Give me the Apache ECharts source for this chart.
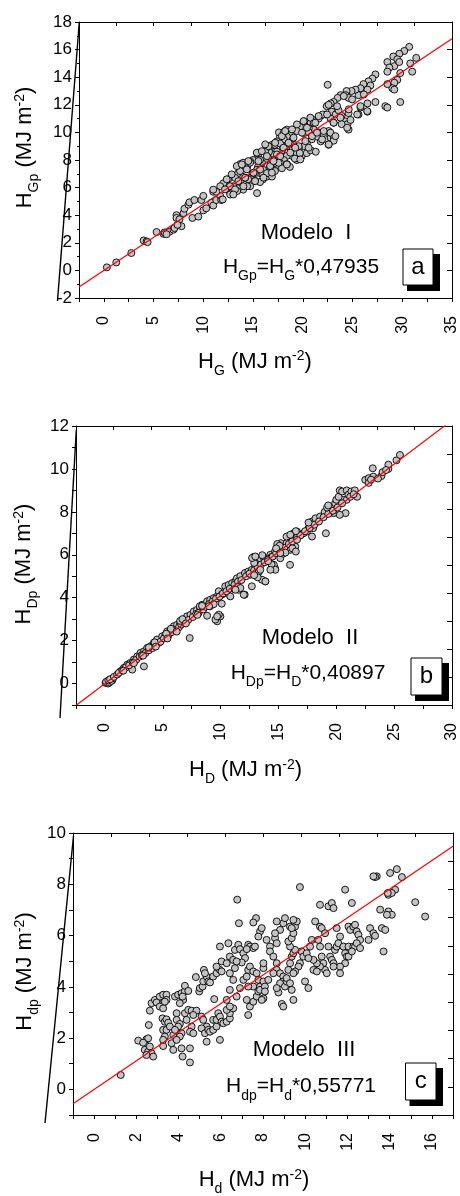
<!DOCTYPE html>
<html><head><meta charset="utf-8">
<script src="https://cdn.jsdelivr.net/npm/echarts@6/dist/echarts.min.js"></script>
<style>html,body{margin:0;padding:0;background:#fff}#c{width:460px;height:1196px}</style>
</head><body><div id="c"></div>
<script>
const FONT = 'Liberation Sans, Arial, sans-serif';

// Panel a: H_G vs H_Gp
const pointsA = [
[0.3,0.22],[1.25,0.58],[2.76,1.26],[4.0,2.17],[4.3,2.1],[4.4,2.05],[5.3,2.78],[6.0,2.65],[6.1,2.75],[6.6,2.8],[6.3,2.62],[7.0,2.95],[7.1,3.07],[7.3,4.0],[7.3,3.8],[7.6,3.7],[7.8,3.2],[7.4,3.3],[8.0,4.15],[8.1,4.47],[8.5,4.76],[8.6,4.93],[8.9,3.8],[9.1,5.1],[9.5,3.9],[9.8,5.1],[10.0,5.4],[10.0,4.35],[10.3,4.5],[10.8,4.9],[11.0,5.7],[11.0,4.7],[11.3,5.1],[11.7,5.4],[11.8,5.1],[12.2,6.2],[12.3,6.45],[12.5,6.6],[12.7,5.6],[12.85,5.8],
[30.7,16.2],[30.2,15.9],[29.7,15.7],[29.1,15.5],[29.5,15.3],[28.5,15.1],[29.2,14.8],[28.7,14.7],[29.7,15.1],[31.4,15.4],[30.8,15.0],[31.0,14.4],[29.8,14.3],[29.5,13.8],[29.2,13.6],[29.0,13.2],[29.2,13.1],[28.5,13.5],[28.5,14.4],[29.8,12.2],[28.3,11.9],[28.5,11.8],
[27.3,14.2],[27.0,13.9],[26.6,13.7],[26.8,13.4],[26.1,13.5],[26.5,13.1],[25.8,13.2],[25.6,12.7],[25.3,13.1],[27.3,12.2],[26.5,12.1],[26.5,11.5],[25.8,11.8],[25.6,11.3],
[24.9,13.0],[24.4,13.0],[24.3,12.7],[24.6,12.5],[23.8,12.7],[23.5,12.5],[23.1,12.2],[22.8,12.1],[22.4,11.9],[22.6,12.0],[22.9,11.5],[23.3,11.3],[23.6,11.6],[23.9,11.2],[24.6,11.4],[24.3,10.8],[24.5,10.6],[24.6,10.2],[24.8,10.9],[23.9,10.6],[23.1,10.7],[22.8,11.0],[22.3,11.3],[21.8,11.2],[22.5,13.45],
[21.6,10.0],[22.1,9.8],[22.6,10.1],[22.3,9.5],[22.8,9.6],[23.1,9.7],[22.6,9.1],[23.1,9.4],[21.8,9.35],[21.4,9.7],[21.1,10.2],[20.8,10.7],[20.6,10.3],[20.1,10.8],[19.7,10.4],[19.4,10.1],
[20.9,9.5],[20.4,9.2],[20.1,9.0],[19.6,8.9],[19.1,9.1],[19.9,8.3],[19.4,8.0],[18.9,8.3],[19.4,8.5],
[18.7,10.0],[18.4,9.7],[18.2,10.1],[18.1,9.5],[17.7,9.7],[17.4,9.35],[17.1,9.1],[16.7,8.9],
[18.4,9.0],[17.9,8.7],[17.4,8.6],[16.9,8.4],[16.6,8.1],[16.2,8.0],[15.9,7.8],[15.5,7.5],
[18.4,8.3],[18.1,8.0],[17.7,7.8],[17.4,7.5],[17.1,7.3],[16.7,7.05],[16.4,6.8],[16.0,6.6],
[18.7,7.5],[18.4,7.7],[17.9,7.4],[17.2,7.2],[16.9,6.8],[16.7,7.5],[16.0,7.3],[15.7,7.05],
[15.5,8.3],[15.4,8.5],[15.7,8.0],[15.0,8.0],[14.7,7.9],[14.5,7.8],[14.4,7.5],[14.0,7.4],
[15.2,7.05],[14.9,6.8],[14.5,6.6],[14.2,6.7],[13.9,6.8],[13.5,7.05],[13.7,6.45],[13.2,6.7],
[15.4,5.6],
[15.7,6.4],[15.2,6.5],[14.7,6.1],[14.4,6.1],[14.0,5.85],[13.5,5.95],[13.0,6.1],[12.85,5.6],[12.7,5.5],[13.4,5.75],
[13.7,7.7],[14.0,7.8],[12.0,6.3],[11.7,6.1],[11.3,5.7],[11.0,5.85],
[16.6,8.6],[16.4,8.9],[16.9,9.1],[17.2,9.1],[17.7,9.2],[17.6,10.0],[18.1,10.0],[18.4,10.2],
[20.4,8.5],[20.8,8.7],[21.3,8.6],[20.1,9.95],[20.6,10.0],[21.1,10.7],[21.3,10.9],[21.6,11.0],[22.0,11.3],
[19.7,8.5],[19.2,8.1],[18.7,9.2],[17.1,8.0],[16.2,8.6],[15.0,7.05],[15.4,7.3],[16.0,6.95],[16.4,7.05],
[11.95,5.14],[12.35,6.6],[12.68,6.1],[13.19,5.87],[13.02,5.5],[13.69,7.2],[13.52,6.47],[14.2,6.72],[14.37,7.32],[14.03,6.1],[15.04,7.08],[15.2,6.47],[15.54,7.92],[15.38,8.53],[15.71,7.32],[15.88,8.64],[16.05,6.72],[16.39,8.28],[16.55,9.0],[16.72,7.56],[16.89,7.08],[17.22,9.25],[17.4,8.4],[17.56,7.8],[17.9,9.73],[18.06,8.89],[18.23,10.1],[18.4,7.68],[18.57,9.25],[18.74,8.53],[18.91,10.22],[19.07,9.62],[19.41,10.58],[19.58,9.0],[19.75,8.04],[19.92,9.98],[20.08,10.82],[20.25,9.37],[20.42,10.34],[20.76,11.07],[20.93,9.73],[21.26,10.7],[21.59,11.18],[21.94,9.49],[22.1,10.1],[22.44,11.3],[22.6,9.13],[22.78,9.98],[23.1,10.7],[23.28,9.73],[23.45,11.9],[23.78,11.07],[24.12,12.63],[24.46,10.34],[24.62,11.67],[24.96,12.39],[25.47,11.3],[25.8,11.9],[26.48,11.54],[26.14,12.75],
[14.7,7.8],[14.53,7.92],[16.22,9.13],[17.05,7.92],[17.73,8.28],[19.24,8.89],[20.59,8.89],[21.43,9.98],[12.85,6.96],[12.18,5.87],[13.36,7.56],[13.87,7.68]
];

// Panel b: H_D vs H_Dp
const pointsB = [
[0.06,0.03],[0.2,0.06],[0.35,0.1],[0.5,0.19],[0.63,0.14],[0.26,0.0],[0.1,0.08],[0.4,0.05],[0.55,0.12],[0.7,0.25],[0.3,0.15],[0.45,0.2],
[0.78,0.31],[1.06,0.42],[1.35,0.57],[1.64,0.73],[1.93,0.88],[2.2,0.96],[2.5,1.12],[2.8,1.27],[3.08,1.43],[3.37,1.5],[3.65,1.66],[3.94,1.74],[4.23,1.9],[4.5,2.05],[4.66,1.9],[4.95,2.2],[5.23,2.28],[5.38,2.43],[5.67,2.5],[5.95,2.67],[6.24,2.74],[6.5,2.82],[6.67,2.9],[6.8,2.98],[7.1,3.13],[7.4,3.2],[7.68,3.36],[7.97,3.44],[8.25,3.5],[8.4,3.67],[8.83,3.83],[9.1,3.9],[9.1,3.6],[9.4,3.98],[9.7,4.06],[9.84,4.3],[10.1,4.14],[10.55,4.2],[10.4,4.53],[10.7,4.6],[11.1,4.53],[11.0,4.68],[11.27,4.76],[11.4,4.9],[11.7,5.0],[12.1,5.15],[12.57,5.07],[13.1,5.15],[12.4,5.22],[12.7,5.3],[13.0,5.53],[12.85,5.9],[13.1,5.6],[13.4,5.84],[13.7,5.9],[14.0,5.77],[14.3,6.0],[14.4,5.9],[14.7,6.15],[14.9,6.38],[15.2,6.54],[15.4,6.38],[15.7,6.54],[15.7,6.85],[16.0,6.23],[16.45,6.38],[16.3,6.7],[16.3,7.0],[16.6,7.08],[16.9,6.93],[17.17,7.0],[17.46,7.08],[17.6,7.24],[18.0,7.24],[17.75,7.4],[17.9,7.55],[18.2,7.7],[18.6,7.78],[19.76,7.94],[19.0,7.86],[19.5,8.0],[19.0,8.0],[19.3,8.25],[19.6,8.17],[19.9,8.4],[20.0,8.56],[20.6,8.56],[20.2,8.7],[20.3,9.0],[20.5,8.95],[20.9,9.0],[20.9,8.56],[21.05,8.8],[21.3,8.95],[21.6,9.0],[21.8,8.7],[22.5,9.49],[22.8,9.57],[23.15,10.03],[23.2,9.64],[23.9,9.67],[24.5,10.0],[24.5,10.2],[25.2,10.4],[25.5,10.65],
[3.37,0.8],[7.33,2.12],[2.36,0.65],[9.7,2.9],[9.98,3.13],[8.83,3.16],[12.08,4.14],[13.86,4.76],[13.57,4.84],[12.7,4.53],[16.0,5.53],[19.1,7.0],[20.8,7.94],[20.3,7.86],[17.9,6.85],[14.7,5.38],[14.6,5.53],[10.1,3.72],[10.84,4.06],[11.56,4.37],[15.16,5.84],
[1.2,0.5],[1.5,0.62],[1.8,0.75],[2.1,0.85],[2.4,0.98],[2.7,1.1],[3.0,1.25],[3.2,1.32],[3.5,1.42],[3.8,1.55],[4.1,1.65],[4.4,1.8],[4.8,1.95],[5.1,2.1],[5.5,2.25],[5.8,2.4],[6.1,2.48],[6.4,2.62],[6.6,2.75],[6.9,2.82],[7.2,2.96],[7.6,3.1],[7.9,3.25],[8.1,3.3],[8.5,3.45],[8.7,3.58],[9.0,3.7],[9.3,3.82],[9.6,3.95],[9.9,4.05],[10.2,4.2],[10.5,4.3],[10.8,4.42],[11.2,4.6],[11.5,4.75],[11.8,4.82],[12.2,5.0],[12.5,5.12],[12.9,5.28],[13.2,5.4],[13.5,5.55],[13.8,5.65],[14.1,5.78],[14.5,5.92],[14.8,6.08],[15.1,6.2],[15.5,6.32],[15.9,6.5],[16.2,6.62],[16.6,6.8],[16.9,6.9],[17.3,7.1],[17.7,7.25],[18.1,7.4],[18.5,7.55],[18.9,7.75],[19.3,7.9],[19.7,8.05],[20.1,8.2],[20.5,8.4],[21.2,8.7],[21.5,8.82],[22.8,9.35],[23.0,9.5],[23.6,9.55],[24.0,9.85],[24.3,9.95],
[8.2,3.6],[8.4,3.62],[6.5,2.92],[6.7,3.0],[5.7,2.55],[5.3,2.32],[4.3,1.92],[3.8,1.68],[12.9,5.62],[13.6,5.98],[14.9,6.5],[15.1,6.42],[14.8,6.3],[16.5,7.1],[17.6,7.5],[19.2,8.2],[19.3,8.3],
[15.4,6.05],[15.6,6.1],[16.2,6.3],[16.5,6.15],[14.4,5.55],[14.1,5.7],[13.3,5.2],[13.2,4.95],[12.9,5.05],[11.2,4.4],[11.5,4.5],[9.4,3.7],[9.0,3.6],[8.0,3.2],[7.0,2.8],[6.2,2.42],[5.4,2.1],[4.4,1.72],[3.3,1.3],[2.5,0.95],[1.6,0.6],
[13.87,4.76],[14.73,5.3],[14.3,5.3],[12.72,5.85],[13.0,5.92],[9.55,2.98],[9.84,3.21],[9.7,3.13],[15.16,6.08],[16.02,6.93],[16.6,6.7],[11.71,4.45],[11.28,4.37],[13.43,5.3],[12.0,4.14]
];

// Panel c: H_d vs H_dp
const pointsC = [
[1.26,0.56],[2.09,1.9],[2.48,1.95],[2.56,1.99],[2.32,1.82],[2.40,1.54],[2.56,1.47],[2.64,1.67],[2.72,1.41],[2.80,1.28],[2.48,1.34],[2.59,2.51],
[2.64,3.07],[2.72,3.36],[2.88,3.49],[2.96,3.39],[3.11,3.62],[3.27,3.69],[3.43,3.69],[3.27,3.36],[3.11,3.23],[3.27,3.16],[3.43,3.49],[3.35,3.42],
[3.24,2.77],[3.35,2.64],[3.43,2.73],[3.51,2.60],[3.27,2.32],[3.43,2.32],[3.59,2.45],[3.35,2.06],[3.75,2.12],[3.67,1.80],[3.27,1.69],[3.75,1.54],[3.27,1.93],
[3.91,2.97],[3.91,2.71],[4.06,2.55],[4.14,2.19],[3.98,2.45],[3.83,2.32],[4.06,2.06],[3.91,1.93],[4.14,1.60],[4.19,1.28],[4.54,1.05],[4.54,1.60],
[3.83,3.62],[3.98,3.69],[4.14,3.75],[4.30,3.82],[4.22,3.49],[4.06,3.36],[4.30,4.04],[4.46,3.84],[4.19,3.62],
[4.30,2.97],[4.46,3.10],[4.62,3.07],[4.85,3.07],[4.70,2.90],[4.38,2.71],[4.62,2.45],[4.54,2.25],[4.70,2.19],
[4.82,4.38],[4.98,3.82],[5.01,3.95],[5.14,4.01],[5.17,4.21],[5.33,4.40],[5.20,4.66],[5.41,4.21],[5.25,4.53],[5.49,4.17],[5.64,4.40],
[5.09,2.84],[5.17,2.71],[5.33,2.45],[5.09,2.38],[5.25,2.19],[5.41,2.32],[5.33,1.86],[5.49,2.25],[5.64,2.32],[5.80,2.45],[5.64,2.71],[5.80,2.71],[5.88,2.97],[5.96,2.84],[6.04,2.64],[6.12,2.58],[6.28,2.64],[6.43,2.77],[6.43,2.97],[6.59,3.16],[6.28,3.10],[6.43,3.23],
[5.96,1.93],[5.69,3.52],
[5.80,4.53],[5.96,4.66],[5.80,4.79],[6.04,4.99],[5.96,5.57],[6.04,4.60],[6.28,4.92],[6.43,5.18],[6.36,5.70],[6.59,5.05],[6.67,5.44],[6.83,5.64],[6.91,5.47],[7.07,5.31],[7.15,5.12],[6.99,4.95],[6.67,4.73],[6.75,4.99],[6.43,4.53],[6.59,4.27],[6.91,3.95],[7.07,4.27],[7.23,4.40],[7.30,4.66],[6.75,3.62],[6.43,3.88],[6.28,3.49],
[6.78,7.40],[6.86,6.48],[7.67,6.68],[7.54,6.51],[7.86,6.16],[7.78,5.96],[7.94,6.29],
[7.30,5.64],[7.38,5.57],[7.54,5.51],[7.62,5.57],[7.23,5.47],
[7.38,4.79],[7.54,4.60],[7.70,4.53],[7.78,4.27],[7.54,4.01],[7.30,4.01],[7.23,3.49],[7.38,3.23],[7.30,2.90],[7.54,3.42],[7.70,3.62],[7.78,3.82],[7.86,4.01],[8.02,4.21],[8.02,4.73],[8.02,4.92],[7.86,3.88],[8.02,3.55],[7.94,3.49],[8.09,4.01],[8.09,3.82],
[8.17,5.83],[8.33,5.57],[8.57,5.90],[8.65,5.70],[8.81,6.22],[8.96,6.48],[9.04,6.68],[8.65,6.55],[8.57,6.09],[8.33,5.38],[8.49,5.18],[8.65,4.92],[8.65,4.66],[8.81,4.53],[8.96,4.40],[8.96,4.21],[8.49,4.53],[8.25,4.27],[8.81,4.14],[9.04,4.01],[9.12,4.21],[9.20,4.66],[9.28,4.92],[9.36,5.18],[9.44,5.31],[9.52,5.44],[9.28,5.57],[9.20,5.77],[9.36,5.90],[9.44,6.09],[9.52,6.35],[9.60,6.55],[9.44,6.61],[9.28,6.35],[9.75,7.89],
[9.36,6.29],[9.83,5.38],[9.91,5.18],[9.75,4.92],[9.68,4.79],[9.52,4.60],[9.44,4.53],[9.12,4.34],[9.28,4.14],[9.36,3.88],[9.44,3.49],[8.73,3.78],[8.89,3.33],[8.96,3.23],[8.65,3.95],
[10.07,5.31],[10.23,5.57],[10.31,5.83],[10.47,6.55],[10.62,5.83],[10.70,5.57],[10.78,5.18],[10.86,4.92],[10.94,4.66],[11.02,4.53],[10.70,4.79],[10.55,4.92],[10.39,5.05],[10.15,5.12],[9.99,4.21],[10.15,3.95],[10.39,4.66],[10.55,4.60],[10.70,6.35],[10.78,6.29],[10.94,6.09],[11.10,5.57],[11.18,5.18],[11.26,5.05],[11.34,4.92],[11.41,5.44],[11.49,5.57],[11.57,5.70],[11.65,5.96],[11.81,5.57],[11.89,5.31],[11.97,5.18],[12.05,5.57],[11.89,4.92],[11.65,4.79],[11.34,4.79],[11.10,7.14],[11.26,7.27],[11.34,7.07],[10.70,7.20],[11.49,6.29],[11.65,4.53],[12.05,6.35],[12.13,6.22],
[11.89,7.79],[12.21,7.27],[12.28,6.35],[12.36,6.42],[12.44,6.16],[12.52,6.03],[12.60,5.83],[12.28,5.57],[12.36,5.57],[12.05,5.18],[12.21,5.38],[12.44,5.70],[12.60,5.51],[13.0,5.83],[13.07,6.29],[13.23,6.09],[13.31,5.99],[13.39,8.31],[13.31,8.28],[13.55,7.01],[13.63,6.29],[13.71,5.38],[13.94,7.59],[13.94,6.94],[14.10,6.81],[13.87,6.81],[13.79,6.22],[13.23,8.31],
[14.02,8.44],[14.34,8.59],[14.58,8.28],[14.26,7.79],[14.10,7.66],[13.91,7.66],[15.21,7.30],[15.68,6.74]
];

const slopes = [0.47935, 0.40897, 0.55771];
const slopeText = ['0,47935', '0,40897', '0,55771'];
const modelNames = ['Modelo  I', 'Modelo  II', 'Modelo  III'];
const panelLetters = ['a', 'b', 'c'];
const subY = ['Gp', 'Dp', 'dp'];
const subX = ['G', 'D', 'd'];
const xMin = [-2.5, -2.5, -1], xMax = [35, 30, 17], xStep = [2.5, 2.5, 1], xLabelEvery = [5, 5, 2];
const yMin = [-2, -1, -1], yMax = [18, 12, 10], yStep = [2, 1, 1], yLabelEvery = [2, 2, 2];
const allPoints = [pointsA, pointsB, pointsC];

// layout
const grids = [
  {left: 79, top: 22, width: 373, height: 276},
  {left: 76, top: 426, width: 376, height: 279},
  {left: 73, top: 833, width: 380, height: 282}
];
const layout = [
  {model:[306,233], eq:[301,267], box:[403,249,30,36], yT:[25,147.5], xT:[255,361.5], slant:[79.3,22,57.5,301]},
  {model:[310,638], eq:[308,673], box:[411,658,31,37], yT:[24,564], xT:[245.5,770], slant:[76.3,430,60,718]},
  {model:[304,1050], eq:[301,1086.5], box:[405.5,1063,30.5,37], yT:[25,971.5], xT:[254,1180], slant:[73.5,836,45,1123]}
];

const rich = {
  t: {fontSize: 22, lineHeight: 26, fontFamily: FONT, color: '#000'},
  e: {fontSize: 21, lineHeight: 26, fontFamily: FONT, color: '#000'},
  s: {fontSize: 14, lineHeight: 14, padding: [19, 0, 0, 0], fontFamily: FONT, color: '#000'},
  p: {fontSize: 14, lineHeight: 14, padding: [0, 0, 10, 0], fontFamily: FONT, color: '#000'}
};

function isMult(v, m) { const r = Math.abs(v / m - Math.round(v / m)); return r < 1e-6; }

const xAxes = [], yAxes = [], series = [], elements = [];
for (let i = 0; i < 3; i++) {
  const line = {show: true, onZero: false, lineStyle: {color: '#000', width: 1}};
  xAxes.push({
    type: 'value', gridIndex: i, position: 'bottom', min: xMin[i], max: xMax[i], interval: xStep[i],
    axisLine: line, splitLine: {show: false},
    axisTick: {show: true, inside: false, length: 4, lineStyle: {color: '#000'}},
    axisLabel: {show: true, rotate: 90, margin: 18, color: '#000', fontSize: 16, fontFamily: FONT,
      formatter: (v) => isMult(v, xLabelEvery[i]) ? String(v) : ''}
  });
  xAxes.push({
    type: 'value', gridIndex: i, position: 'top', min: 0, max: 10, interval: 1,
    axisLine: line, splitLine: {show: false},
    axisTick: {show: true, inside: true, length: 4, lineStyle: {color: '#000'}},
    axisLabel: {show: false}
  });
  yAxes.push({
    type: 'value', gridIndex: i, position: 'left', min: yMin[i], max: yMax[i], interval: yStep[i],
    axisLine: line, splitLine: {show: false},
    axisTick: {show: true, inside: false, length: 4, lineStyle: {color: '#000'}},
    minorTick: {show: i === 0, splitNumber: 2, length: 2, lineStyle: {color: '#000'}},
    minorSplitLine: {show: false},
    axisLabel: {show: true, margin: 7, color: '#000', fontSize: 17, fontFamily: FONT,
      formatter: (v) => isMult(v, yLabelEvery[i]) ? String(v) : ''}
  });
  yAxes.push({
    type: 'value', gridIndex: i, position: 'right', min: 0, max: 10, interval: 1,
    axisLine: line, splitLine: {show: false},
    axisTick: {show: true, inside: true, length: 5, lineStyle: {color: '#000'}},
    axisLabel: {show: false}
  });
  series.push({
    type: 'scatter', xAxisIndex: 2 * i, yAxisIndex: 2 * i, data: allPoints[i],
    symbol: 'circle', symbolSize: 7, z: 2, silent: true,
    itemStyle: {color: '#c4c4c4', borderColor: '#000', borderWidth: 0.9, opacity: 1}
  });
  series.push({
    type: 'line', xAxisIndex: 2 * i, yAxisIndex: 2 * i, symbol: 'none', clip: true, z: 3, silent: true,
    data: [[xMin[i], slopes[i] * xMin[i]], [xMax[i], slopes[i] * xMax[i]]],
    lineStyle: {color: '#ff0000', width: 1.2}
  });

  const L = layout[i];
  elements.push({type: 'line', z: 50, shape: {x1: L.slant[0], y1: L.slant[1], x2: L.slant[2], y2: L.slant[3]},
    style: {stroke: '#000', lineWidth: 1.4}});
  elements.push({type: 'text', z: 50, x: L.model[0], y: L.model[1],
    style: {text: modelNames[i], font: '22px ' + FONT, fill: '#000', align: 'center', verticalAlign: 'middle'}});
  elements.push({type: 'text', z: 50, x: L.eq[0], y: L.eq[1],
    style: {text: '{e|H}{s|' + subY[i] + '}{e|=H}{s|' + subX[i] + '}{e|*' + slopeText[i] + '}', rich: rich,
      align: 'center', verticalAlign: 'middle'}});
  const b = L.box;
  elements.push({type: 'rect', z: 50, shape: {x: b[0] + 4, y: b[1] + 5, width: b[2] + 3, height: b[3] + 1},
    style: {fill: '#000', stroke: null}});
  elements.push({type: 'rect', z: 51, shape: {x: b[0], y: b[1], width: b[2], height: b[3]},
    style: {fill: '#fff', stroke: '#000', lineWidth: 1}});
  elements.push({type: 'text', z: 52, x: b[0] + b[2] / 2, y: b[1] + b[3] / 2,
    style: {text: panelLetters[i], font: '24px ' + FONT, fill: '#000', align: 'center', verticalAlign: 'middle'}});
  elements.push({type: 'text', z: 50, x: L.yT[0], y: L.yT[1], rotation: Math.PI / 2,
    style: {text: '{t|H}{s|' + subY[i] + '}{t| (MJ m}{p|-2}{t|)}', rich: rich, align: 'center', verticalAlign: 'middle'}});
  elements.push({type: 'text', z: 50, x: L.xT[0], y: L.xT[1],
    style: {text: '{t|H}{s|' + subX[i] + '}{t| (MJ m}{p|-2}{t|)}', rich: rich, align: 'center', verticalAlign: 'middle'}});
}

const chart = echarts.init(document.getElementById('c'), null, {renderer: 'canvas'});
chart.setOption({
  animation: false,
  backgroundColor: '#fff',
  grid: grids.map(g => Object.assign({containLabel: false, outerBoundsMode: 'none'}, g)),
  xAxis: xAxes,
  yAxis: yAxes,
  series: series,
  graphic: {elements: elements}
});
</script>
</body></html>
